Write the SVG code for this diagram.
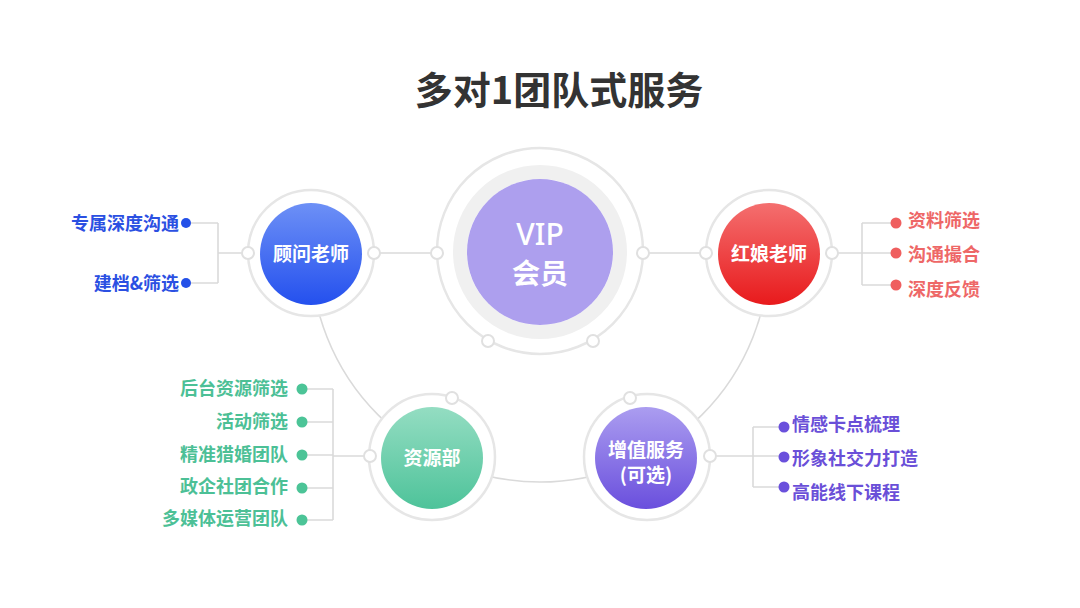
<svg xmlns="http://www.w3.org/2000/svg" width="1080" height="608" viewBox="0 0 1080 608">
<defs>
<linearGradient id="gBlue" x1="0" y1="0" x2="0" y2="1"><stop offset="0" stop-color="#6d90f6"/><stop offset="1" stop-color="#2450ee"/></linearGradient>
<linearGradient id="gRed" x1="0" y1="0" x2="0" y2="1"><stop offset="0" stop-color="#f46f6f"/><stop offset="1" stop-color="#e81a1c"/></linearGradient>
<linearGradient id="gGreen" x1="0" y1="0" x2="0" y2="1"><stop offset="0" stop-color="#94ddc2"/><stop offset="1" stop-color="#4ec39a"/></linearGradient>
<linearGradient id="gPurple" x1="0" y1="0" x2="0" y2="1"><stop offset="0" stop-color="#ab9df0"/><stop offset="1" stop-color="#6a4fdd"/></linearGradient>
<style>
text{font-family:"Noto Sans CJK SC","Noto Sans",sans-serif}
.ring{fill:#fff;stroke:#e6e6e6;stroke-width:2.5}
.knob{fill:#fff;stroke:#e0e0e0;stroke-width:2}
.ln{fill:none;stroke:#dadada;stroke-width:1.6}
.nt{fill:#fff;font-size:19px;font-weight:700;text-anchor:middle}
.lb{font-size:18px;font-weight:700}
.blue{fill:#2b50e2}.red{fill:#ee6767}.green{fill:#4cc096}.purple{fill:#6a4fd8}
</style>
</defs>
<rect width="1080" height="608" fill="#fff"/>
<text x="559" y="104" font-size="38" font-weight="700" fill="#333" text-anchor="middle">多对1团队式服务</text>

<g id="connectors">
<path class="ln" d="M311 253 A229 229 0 0 0 769 253"/>
<path class="ln" d="M374 253 H437 M643 253 H706"/>
<path class="ln" d="M248 253 H218 M218 223 V283 M218 223 H186 M218 283 H186"/>
<path class="ln" d="M832 253 H895 M862 223 V285 M862 223 H895 M862 285 H895"/>
<path class="ln" d="M370 456 H333 M333 389 V520 M333 389 H302 M333 422 H302 M333 455 H302 M333 488 H302 M333 520 H302"/>
<path class="ln" d="M710 456 H783 M753 427 V487 M753 427 H783 M753 487 H783"/>
</g>

<g id="vip">
<circle class="ring" cx="540" cy="251" r="103" stroke-width="2"/>
<circle cx="540" cy="252" r="80" fill="none" stroke="#f0f0f0" stroke-width="14"/>
<circle cx="540" cy="252" r="73" fill="#ad9fee"/>
<circle class="knob" cx="437" cy="253" r="6"/>
<circle class="knob" cx="643" cy="253" r="6"/>
<circle class="knob" cx="488" cy="341" r="6"/>
<circle class="knob" cx="593" cy="341" r="6"/>
<text x="540" y="245" fill="#fff" font-size="30" font-weight="500" text-anchor="middle" style="font-family:'Noto Sans',sans-serif">VIP</text>
<text x="540" y="284" fill="#fff" font-size="28" font-weight="700" text-anchor="middle">会员</text>
</g>

<g id="guwen">
<circle class="ring" cx="311" cy="253" r="63"/>
<circle cx="311" cy="254" r="51" fill="url(#gBlue)"/>
<circle class="knob" cx="248" cy="253" r="6"/>
<circle class="knob" cx="374" cy="253" r="6"/>
<text class="nt" x="311" y="261">顾问老师</text>
</g>
<g id="guwen-items">
<circle cx="186" cy="223" r="5" fill="#2450e8"/>
<circle cx="186" cy="283" r="5" fill="#2450e8"/>
<text class="lb blue" x="179" y="230" text-anchor="end">专属深度沟通</text>
<text class="lb blue" x="179" y="290" text-anchor="end">建档&amp;筛选</text>
</g>

<g id="hongniang">
<circle class="ring" cx="769" cy="253" r="63"/>
<circle cx="769" cy="254" r="51" fill="url(#gRed)"/>
<circle class="knob" cx="706" cy="253" r="6"/>
<circle class="knob" cx="832" cy="253" r="6"/>
<text class="nt" x="769" y="261">红娘老师</text>
</g>
<g id="hongniang-items">
<circle cx="896" cy="223" r="5.5" fill="#ef5f5f"/>
<circle cx="896" cy="253" r="5.5" fill="#ef5f5f"/>
<circle cx="896" cy="285" r="5.5" fill="#ef5f5f"/>
<text class="lb red" x="908" y="227">资料筛选</text>
<text class="lb red" x="908" y="261">沟通撮合</text>
<text class="lb red" x="908" y="296">深度反馈</text>
</g>

<g id="ziyuan">
<circle class="ring" cx="432" cy="457" r="63"/>
<circle cx="432" cy="458" r="51" fill="url(#gGreen)"/>
<circle class="knob" cx="452" cy="398" r="6"/>
<circle class="knob" cx="370" cy="456" r="6"/>
<text class="nt" x="432" y="465">资源部</text>
</g>
<g id="ziyuan-items">
<circle cx="302" cy="389" r="5.5" fill="#4cc497"/>
<circle cx="302" cy="422" r="5.5" fill="#4cc497"/>
<circle cx="302" cy="455" r="5.5" fill="#4cc497"/>
<circle cx="302" cy="488" r="5.5" fill="#4cc497"/>
<circle cx="302" cy="520" r="5.5" fill="#4cc497"/>
<text class="lb green" x="288" y="395" text-anchor="end">后台资源筛选</text>
<text class="lb green" x="288" y="428" text-anchor="end">活动筛选</text>
<text class="lb green" x="288" y="461" text-anchor="end">精准猎婚团队</text>
<text class="lb green" x="288" y="493" text-anchor="end">政企社团合作</text>
<text class="lb green" x="288" y="525" text-anchor="end">多媒体运营团队</text>
</g>

<g id="zengzhi">
<circle class="ring" cx="647" cy="457" r="63"/>
<circle cx="646" cy="458" r="51" fill="url(#gPurple)"/>
<circle class="knob" cx="630" cy="398" r="6"/>
<circle class="knob" cx="710" cy="456" r="6"/>
<text class="nt" x="646" y="457">增值服务</text>
<text class="nt" x="646" y="482">(可选)</text>
</g>
<g id="zengzhi-items">
<circle cx="784" cy="427" r="5.5" fill="#6a50dc"/>
<circle cx="784" cy="457" r="5.5" fill="#6a50dc"/>
<circle cx="784" cy="487" r="5.5" fill="#6a50dc"/>
<text class="lb purple" x="792" y="431">情感卡点梳理</text>
<text class="lb purple" x="792" y="465">形象社交力打造</text>
<text class="lb purple" x="792" y="499">高能线下课程</text>
</g>
</svg>
